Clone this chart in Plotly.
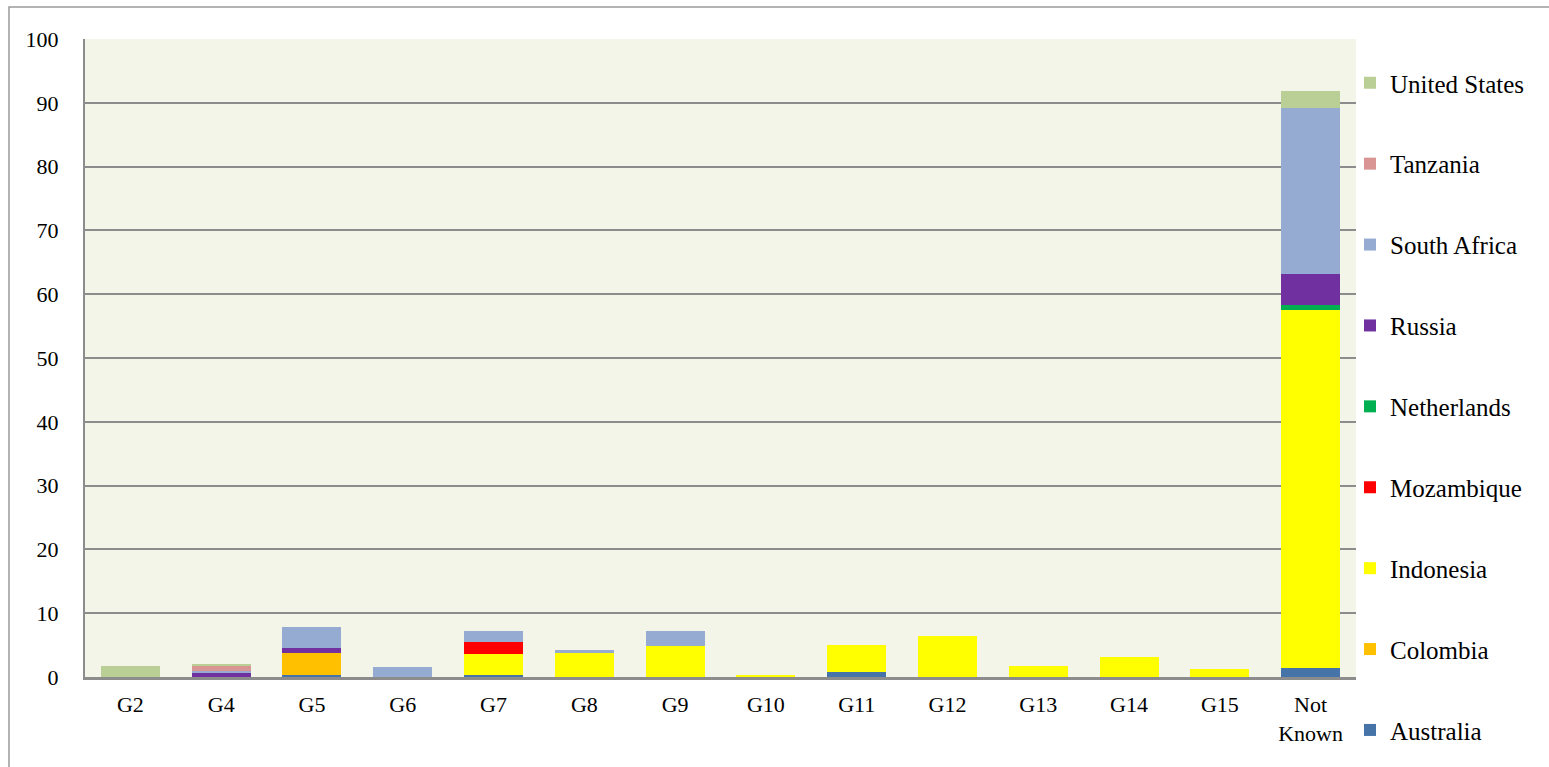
import plotly.graph_objects as go

categories = ["G2", "G4", "G5", "G6", "G7", "G8", "G9", "G10", "G11", "G12", "G13", "G14", "G15", "Not<br>Known"]

australia     = [0, 0, 0.37, 0, 0.37, 0, 0, 0, 0.84, 0, 0, 0, 0, 1.41]
colombia      = [0, 0, 3.40, 0, 0, 0, 0, 0, 0, 0, 0, 0, 0, 0]
indonesia     = [0, 0, 0, 0, 3.29, 3.70, 4.91, 0.26, 4.13, 6.48, 1.72, 3.19, 1.20, 56.19]
mozambique    = [0, 0, 0, 0, 1.88, 0, 0, 0, 0, 0, 0, 0, 0, 0]
netherlands   = [0, 0, 0, 0, 0, 0, 0, 0, 0, 0, 0, 0, 0, 0.74]
russia        = [0, 0.63, 0.84, 0, 0, 0, 0, 0, 0, 0, 0, 0, 0, 4.90]
south_africa  = [0, 0.37, 3.24, 1.52, 1.67, 0.47, 2.25, 0, 0, 0, 0, 0, 0, 25.98]
tanzania      = [0, 0.68, 0, 0, 0, 0, 0, 0, 0, 0, 0, 0, 0, 0]
united_states = [1.72, 0.42, 0, 0, 0, 0, 0, 0, 0, 0, 0, 0, 0, 2.66]

series = [
    ("Australia", australia, "#4673A8"),
    ("Colombia", colombia, "#FFC000"),
    ("Indonesia", indonesia, "#FFFF00"),
    ("Mozambique", mozambique, "#FF0000"),
    ("Netherlands", netherlands, "#00B050"),
    ("Russia", russia, "#7030A0"),
    ("South Africa", south_africa, "#95ABD1"),
    ("Tanzania", tanzania, "#D99594"),
    ("United States", united_states, "#BACF96"),
]

FONT = "Liberation Serif, Times New Roman, serif"

fig = go.Figure()
n = len(series)
for i, (name, vals, color) in enumerate(series):
    fig.add_trace(go.Bar(
        x=categories, y=[v if v else None for v in vals], name=name,
        marker=dict(color=color, line=dict(width=0)),
        legendgroup=name,
        legendrank=n - i,
    ))

fig.update_layout(
    barmode="stack",
    bargap=0.35,
    width=1549, height=767,
    margin=dict(l=85, r=193, t=39, b=90, autoexpand=False),
    paper_bgcolor="white",
    plot_bgcolor="#F2F5E8",
    font=dict(family=FONT, size=22, color="black"),
    showlegend=True,
    legend=dict(
        traceorder="grouped",
        xref="container", yref="container",
        x=1350 / 1549, xanchor="left", y=1 - 60 / 767, yanchor="top",
        font=dict(family=FONT, size=25, color="black"),
        tracegroupgap=45.4,
        itemwidth=30,
        maxheight=760,
        bgcolor="rgba(0,0,0,0)",
    ),
    xaxis=dict(
        showgrid=False, ticks="", showline=True, linecolor="#8c8c8c", linewidth=2.5,
        tickfont=dict(family=FONT, size=22), ticklabelstandoff=6,
    ),
    yaxis=dict(
        range=[0, 100], dtick=10, showgrid=True, gridcolor="#8c8c8c", gridwidth=1.5,
        zeroline=False, showline=True, linecolor="#8c8c8c", linewidth=2,
        ticks="", ticklabelstandoff=20,
        tickfont=dict(family=FONT, size=22),
    ),
    shapes=[dict(
        type="rect", xref="paper", yref="paper",
        x0=-0.0598, x1=1.2, y0=-0.2, y1=1.0502,
        line=dict(color="#9a9a9a", width=1.5), fillcolor="rgba(0,0,0,0)", layer="below",
    )],
)

fig.write_html(
    "out.html",
    config={"displayModeBar": False},
    post_script="document.body.style.margin='0';document.body.style.overflow='hidden';",
)
